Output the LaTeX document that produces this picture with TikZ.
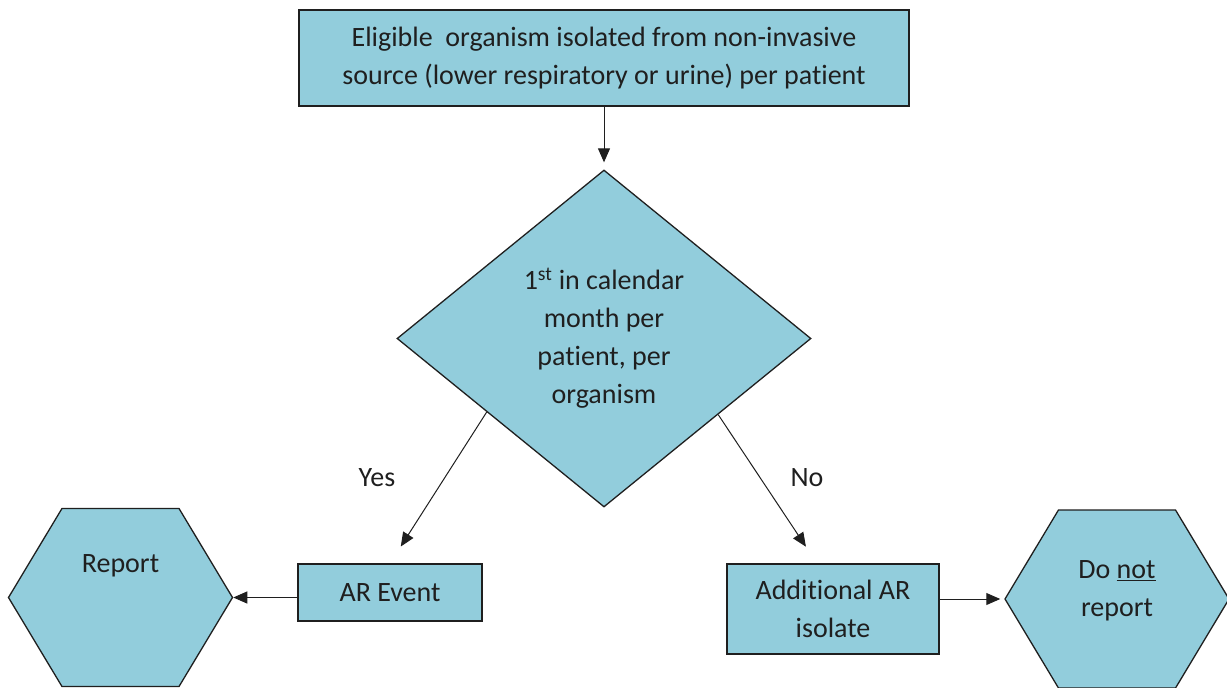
\documentclass[tikz,border=0pt]{standalone}
\usepackage{fontspec}
\setmainfont[Ligatures={NoCommon,NoContextual}]{Carlito}
\usetikzlibrary{shapes.geometric,shapes.symbols,arrows.meta,calc,positioning}
\definecolor{boxblue}{HTML}{92CDDC}
\definecolor{inkgray}{HTML}{1F1F1F}

\begin{document}
\begin{tikzpicture}[x=1pt,y=-1pt,
		flowbox/.style={draw=inkgray,line width=1.3pt,fill=boxblue,inner sep=0pt,align=center,text=inkgray,font=\fontsize{28}{38}\selectfont},
		hexbox/.style={flowbox,signal,signal to=east and west,signal pointer angle=118,minimum width=224pt,minimum height=178pt},
		lbl/.style={align=center,text=inkgray,font=\fontsize{28}{38}\selectfont},
		flow/.style={draw=inkgray,line width=1pt,-{Triangle[length=14pt,width=12pt]}}]
			\useasboundingbox (0,0) rectangle (1227,688);
			\node[flowbox,minimum width=610pt,minimum height=96pt] (src) at (604,58) {Eligible~ organism isolated from non-invasive\\source (lower respiratory or urine) per patient};
			\node[flowbox,diamond,minimum width=414pt,minimum height=337pt] (first) at (604,338.5) {1\textsuperscript{st} in calendar\\month per\\patient, per\\organism};
			\node[flowbox,minimum width=184pt,minimum height=57pt] (event) at (390,592.5) {AR Event};
			\node[flowbox,minimum width=212pt,minimum height=90pt] (extra) at (833,609) {Additional AR\\isolate};
			\node[hexbox] (report) at (120.5,597.5) {};
			\node[hexbox] (noreport) at (1117,599) {};
			\node[lbl] (reporttxt) at ([yshift=32pt]report.center) {Report};
			\node[lbl] (noreporttxt) at ([yshift=8pt]noreport.center) {Do \underline{not}\\report};
			\node[lbl] (yes) at (377,478) {Yes};
			\node[lbl] (no) at (807,478) {No};
			\coordinate (yesin) at ($(first.west)!0.435!(first.south)$);
			\coordinate (noin) at ($(first.east)!0.45!(first.south)$);
			\path (src) edge[flow,shorten >=7pt] (first);
			\path (yesin) edge[flow,shorten >=20pt] (event.north);
			\path (noin) edge[flow,shorten >=20pt] ([xshift=-16pt]extra.north);
			\path (report.east -| event.west) edge[flow] (report.east);
			\path (noreport.west -| extra.east) edge[flow,shorten >=4pt] (noreport.west);
		\end{tikzpicture}
\end{document}
